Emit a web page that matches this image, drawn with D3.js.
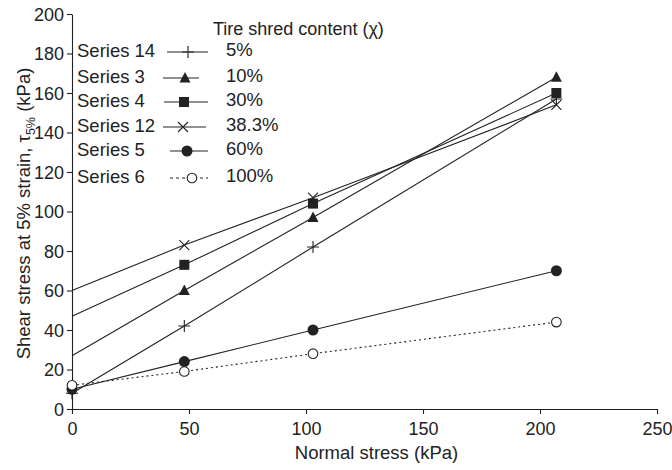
<!DOCTYPE html>
<html>
<head>
<meta charset="utf-8">
<script src="https://cdn.jsdelivr.net/npm/d3@7"></script>
<style>
  html, body { margin: 0; padding: 0; background: #fff; }
  svg { display: block; font-family: "Liberation Sans", Arial, sans-serif; }
</style>
</head>
<body>
<svg id="chart" width="672" height="470"></svg>
<script>
// Normal stress levels used in the direct shear tests (kPa)
const normalStress = [0, 48, 103, 207];

// Shear stress at 5% strain (kPa) for each mixture
const series14 = [8, 42, 82, 157];
const series3  = [27, 60, 97, 168];
const series4  = [47, 73, 104, 160];
const series12 = [60, 83, 107, 154];
const series5  = [10, 24, 40, 70];
const series6  = [12, 19, 28, 44];

const seriesNames = ["Series 14", "Series 3", "Series 4", "Series 12", "Series 5", "Series 6"];
const shredContent = ["5%", "10%", "30%", "38.3%", "60%", "100%"];
const seriesValues = [series14, series3, series4, series12, series5, series6];
// series whose zero-stress value is an intercept only (no marker drawn there)
const interceptOnly = ["Series 3", "Series 4", "Series 12"];

const xTicks = [0, 50, 100, 150, 200, 250];
const yTicks = [0, 20, 40, 60, 80, 100, 120, 140, 160, 180, 200];

const symbols = ["plus", "triangle", "square", "cross", "dot", "ring"];

const svg = d3.select("#chart");
const margin = { top: 14, right: 15, bottom: 61, left: 72 };
const W = 672, H = 470;
const ink = "#222";
const fs = 18;

const x = d3.scaleLinear().domain([0, 250]).range([margin.left, W - margin.right]);
const y = d3.scaleLinear().domain([0, 200]).range([H - margin.bottom, margin.top]);

// axes
const xAxis = svg.append("g")
  .attr("transform", `translate(0,${y(0)})`)
  .call(d3.axisBottom(x).tickValues(xTicks).tickSize(5).tickPadding(8).tickSizeOuter(0));
const yAxis = svg.append("g")
  .attr("transform", `translate(${x(0)},0)`)
  .call(d3.axisLeft(y).tickValues(yTicks).tickSize(5).tickPadding(3).tickSizeOuter(0));

[xAxis, yAxis].forEach(g => {
  g.selectAll("path, line").attr("stroke", ink).attr("stroke-width", 1.1);
  g.selectAll("text").attr("fill", ink).attr("font-size", fs)
    .attr("font-family", "Liberation Sans, Arial, sans-serif");
});
yAxis.selectAll("text").attr("dy", "0.34em");

// axis titles
svg.append("text")
  .attr("x", (x(0) + x(250)) / 2 + 12)
  .attr("y", 459)
  .attr("text-anchor", "middle")
  .attr("font-size", fs + 0.5)
  .attr("fill", ink)
  .text("Normal stress (kPa)");

const yTitle = svg.append("text")
  .attr("transform", `translate(30,${(y(0) + y(200)) / 2 + 2}) rotate(-90)`)
  .attr("text-anchor", "middle")
  .attr("font-size", fs + 0.5)
  .attr("fill", ink);
yTitle.append("tspan").text("Shear stress at 5% strain, \u03C4");
yTitle.append("tspan").attr("font-size", 12.5).attr("dy", 5).text("5%");
yTitle.append("tspan").attr("dy", -5).text(" (kPa)");

// marker drawing
function drawMarker(g, kind, cx, cy) {
  const s = g.append("g").attr("transform", `translate(${cx},${cy})`);
  switch (kind) {
    case "plus":
      s.append("path").attr("d", "M-6,0H6M0,-6V6").attr("stroke", ink).attr("stroke-width", 1.1);
      break;
    case "triangle":
      s.append("path").attr("d", "M0,-6L5.5,4.5H-5.5Z").attr("fill", ink);
      break;
    case "square":
      s.append("rect").attr("x", -5).attr("y", -5).attr("width", 10).attr("height", 10).attr("fill", ink);
      break;
    case "cross":
      s.append("path").attr("d", "M-5,-5L5,5M-5,5L5,-5").attr("stroke", ink).attr("stroke-width", 1.1);
      break;
    case "dot":
      s.append("circle").attr("r", 5.5).attr("fill", ink);
      break;
    case "ring":
      s.append("circle").attr("r", 4.8).attr("fill", "#fff").attr("stroke", ink).attr("stroke-width", 1.1);
      break;
  }
}

const line = d3.line().x(d => x(d[0])).y(d => y(d[1]));
const plot = svg.append("g");

seriesNames.forEach((name, i) => {
  const pts = normalStress.map((s, j) => [s, seriesValues[i][j]]);
  plot.append("path")
    .datum(pts)
    .attr("d", line)
    .attr("fill", "none")
    .attr("stroke", ink)
    .attr("stroke-width", 1.1)
    .attr("stroke-dasharray", symbols[i] === "ring" ? "2,3" : null);
});

seriesNames.forEach((name, i) => {
  normalStress.forEach((s, j) => {
    if (s === 0 && interceptOnly.includes(name)) return;
    drawMarker(plot, symbols[i], x(s), y(seriesValues[i][j]));
  });
});

// legend
const legend = svg.append("g");
legend.append("text")
  .attr("x", 213).attr("y", 35)
  .attr("font-size", fs).attr("fill", ink)
  .text("Tire shred content (\u03C7)");

const rowY = [50, 76, 100, 125, 149, 176];
const lineX = [[167, 208], [163, 199], [164, 208], [163, 206], [170, 208], [170, 208]];
const markX = [188, 185, 184, 183, 187, 192];
seriesNames.forEach((name, i) => {
  const ry = rowY[i];
  legend.append("text")
    .attr("x", 77).attr("y", ry).attr("dy", "0.36em")
    .attr("font-size", fs + 0.5).attr("fill", ink)
    .text(name);
  legend.append("line")
    .attr("x1", lineX[i][0]).attr("x2", lineX[i][1])
    .attr("y1", ry + 2).attr("y2", ry + 2)
    .attr("stroke", ink).attr("stroke-width", 1.1)
    .attr("stroke-dasharray", symbols[i] === "ring" ? "3,3" : null);
  drawMarker(legend, symbols[i], markX[i], ry + 2);
  legend.append("text")
    .attr("x", 226).attr("y", ry - 1).attr("dy", "0.36em")
    .attr("font-size", fs + 0.5).attr("fill", ink)
    .text(shredContent[i]);
});
</script>
</body>
</html>
